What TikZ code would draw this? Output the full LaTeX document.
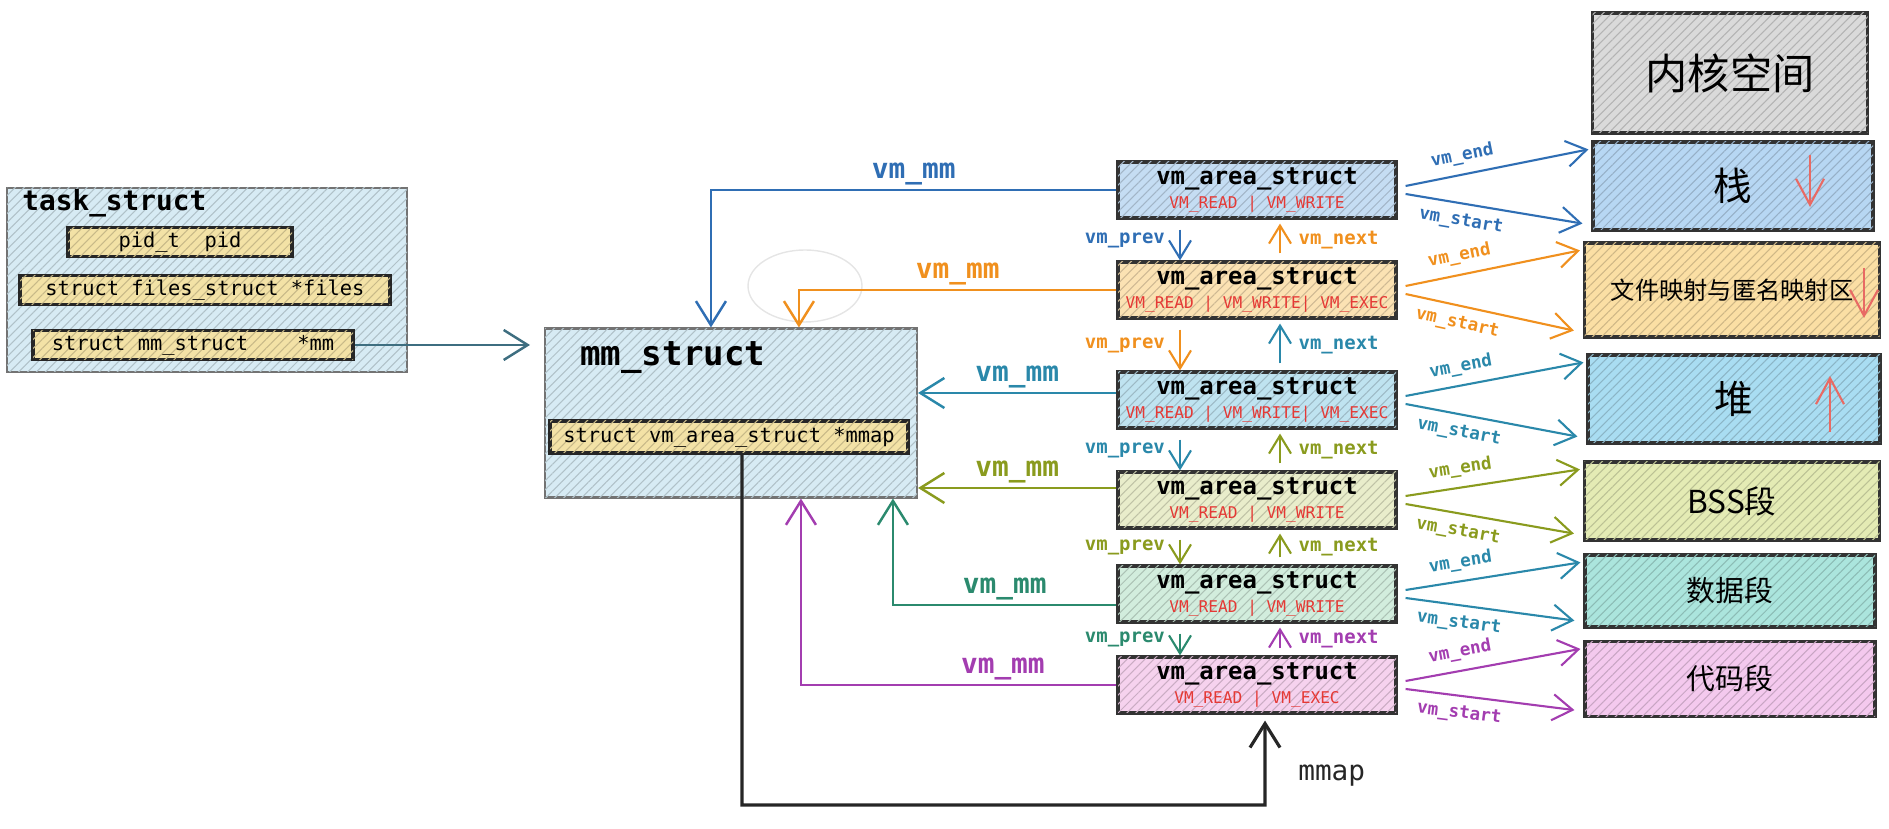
\documentclass[tikz,border=0pt]{standalone}
\usepackage{fontspec}
\setmonofont{DejaVu Sans Mono}
\newfontfamily\cjk{Noto Sans CJK SC}
\usetikzlibrary{arrows.meta,patterns.meta}

% Couleurs des liens
\definecolor{lbleu}{HTML}{2F6EB4}
\definecolor{lorange}{HTML}{F0901E}
\definecolor{lcyan}{HTML}{2A88AA}
\definecolor{lolive}{HTML}{8A9B1E}
\definecolor{lvert}{HTML}{2B8A6E}
\definecolor{lviolet}{HTML}{A33DB0}
\definecolor{lgris}{HTML}{3E6E80}
% Couleurs de fond
\definecolor{fbleu}{HTML}{C5DDF3}
\definecolor{forange}{HTML}{FBE2B3}
\definecolor{fcyan}{HTML}{BFE3F0}
\definecolor{folive}{HTML}{E9EDCB}
\definecolor{fvert}{HTML}{D2EDDD}
\definecolor{fviolet}{HTML}{F6D2EE}
\definecolor{fgris}{HTML}{DADADA}
\definecolor{fpile}{HTML}{B7D7F3}
\definecolor{ffmap}{HTML}{FBDFA4}
\definecolor{ftas}{HTML}{A9DDF2}
\definecolor{fbss}{HTML}{E4EBB4}
\definecolor{fdonnees}{HTML}{ABE5DD}
\definecolor{fcode}{HTML}{F4C9EE}
\definecolor{fstruct}{HTML}{D7EBF4}
\definecolor{fjaune}{HTML}{F3E2A6}
\definecolor{rflag}{HTML}{E53935}
\definecolor{rfleche}{HTML}{E86A64}

\tikzset{
  hachure/.style={fill=#1, postaction={pattern={Lines[angle=45,distance=1.8pt,line width=.3pt]}, pattern color=#1!82!black}},
  boite/.style={draw=black!55, line width=.6pt, hachure=#1},
  champ/.style={draw=black!85, line width=.9pt, hachure=fjaune, inner xsep=2pt, inner ysep=1.3pt, font=\ttfamily\fontsize{5.8}{6.5}\selectfont},
  vma/.style={draw=black!80, line width=.9pt, hachure=#1, minimum width=27.8mm, minimum height=5.6mm, align=center, inner sep=1pt, font=\ttfamily\fontsize{4.6}{6.6}\selectfont},
  seg/.style={draw=black!80, line width=.9pt, hachure=#1, font=\cjk\fontsize{8.2}{10}\selectfont},
  grosse/.style={line width=.7pt, -{Straight Barb[length=2.4mm,width=3mm]}},
  moyenne/.style={line width=.6pt, -{Straight Barb[length=2mm,width=2.6mm]}},
  petite/.style={line width=.6pt, -{Straight Barb[length=1.8mm,width=2.2mm]}},
  lblmm/.style={font=\ttfamily\bfseries\fontsize{7.9}{9}\selectfont, inner sep=1pt},
  lbl/.style={font=\ttfamily\bfseries\fontsize{5.4}{6}\selectfont, inner sep=1pt},
  lblse/.style={font=\ttfamily\bfseries\fontsize{5}{6}\selectfont, inner sep=1pt, sloped},
}

\newcommand\vmtitre{{\fontsize{6.8}{8}\selectfont\bfseries vm\_area\_struct}}
\newcommand\drap[1]{\textcolor{rflag}{#1}}

\begin{document}
\begin{tikzpicture}[x=0.1mm,y=-0.1mm]
   % Variables
   \def\vx{1257} % abscisse de la colonne des vm_area_struct
   \def\dprev{-7.7mm} % decalage des fleches vm_prev
   \def\dnext{2.3mm} % decalage des fleches vm_next

   \useasboundingbox (0,0) rectangle (1889,829);

   % task_struct
   \node[boite=fstruct, minimum width=40mm, minimum height=18.4mm] (task) at (207,280) {};
   \node[anchor=west, font=\ttfamily\bfseries\fontsize{7.9}{9}\selectfont] (tasktitre) at (10,203) {task\_struct};
   \node[champ, minimum width=22.4mm] (pid) at (180,242) {pid\_t\ \ pid};
   \node[champ, minimum width=37mm] (files) at (205,290) {struct files\_struct *files};
   \node[champ, minimum width=32mm] (mmptr) at (193,345) {struct mm\_struct\ \ \ \ *mm};

   % mm_struct
   \node[boite=fstruct, minimum width=37.2mm, minimum height=16.9mm] (mm) at (731,413) {};
   \node[anchor=west, font=\ttfamily\bfseries\fontsize{9.7}{11}\selectfont] (mmtitre) at (568,358) {mm\_struct};
   \node[champ, minimum width=35.8mm, minimum height=3.2mm] (mmap) at (729,437) {struct vm\_area\_struct *mmap};

   % Les vm_area_struct
   \node[vma=fbleu] (va1) at (\vx,190) {\vmtitre\\\drap{VM\_READ | VM\_WRITE}};
   \node[vma=forange] (va2) at (\vx,290) {\vmtitre\\\drap{VM\_READ | VM\_WRITE| VM\_EXEC}};
   \node[vma=fcyan] (va3) at (\vx,400) {\vmtitre\\\drap{VM\_READ | VM\_WRITE| VM\_EXEC}};
   \node[vma=folive] (va4) at (\vx,500) {\vmtitre\\\drap{VM\_READ | VM\_WRITE}};
   \node[vma=fvert] (va5) at (\vx,594) {\vmtitre\\\drap{VM\_READ | VM\_WRITE}};
   \node[vma=fviolet] (va6) at (\vx,685) {\vmtitre\\\drap{VM\_READ | VM\_EXEC}};

   % Segments de l'espace d'adressage
   \node[seg=fgris, minimum width=27.5mm, minimum height=12mm, font=\cjk\fontsize{12}{14}\selectfont] (noyau) at (1730,73) {内核空间};
   \node[seg=fpile, minimum width=28mm, minimum height=8.8mm, font=\cjk\fontsize{11}{13}\selectfont] (pile) at (1733,186) {栈};
   \node[seg=ffmap, minimum width=29.5mm, minimum height=9.4mm, font=\cjk\fontsize{6.9}{8}\selectfont] (fmap) at (1732,290) {文件映射与匿名映射区\hspace{3mm}};
   \node[seg=ftas, minimum width=29.2mm, minimum height=8.8mm, font=\cjk\fontsize{11}{13}\selectfont] (tas) at (1734,399) {堆};
   \node[seg=fbss, minimum width=29.5mm, minimum height=7.8mm, font=\cjk\fontsize{9}{11}\selectfont] (bss) at (1732,501) {BSS段};
   \node[seg=fdonnees, minimum width=29mm, minimum height=7.2mm] (donnees) at (1730,591) {数据段};
   \node[seg=fcode, minimum width=29mm, minimum height=7.5mm] (code) at (1730,679) {代码段};

   % Sens de croissance
   \draw[rfleche, line width=.6pt, -{Straight Barb[length=2.6mm,width=2.8mm]}] (1810,155) -- (1810,207);
   \draw[rfleche, line width=.6pt, -{Straight Barb[length=2.6mm,width=2.8mm]}] (1864,268) -- (1864,318);
   \draw[rfleche, line width=.6pt, -{Straight Barb[length=2.6mm,width=2.8mm]}] (1830,432) -- (1830,376);

   % task_struct -> mm_struct
   \coordinate (entree) at (530,345);
   \draw[lgris, grosse] (mmptr.east) -- (entree);

   % Cercle estompe
   \draw[gray!20, line width=.4pt] (805,286) ellipse [x radius=5.7mm, y radius=3.6mm];

   % vm_mm
   \draw[lbleu, grosse] (va1.west) -| ([xshift=16.7mm]mm.north west) node[lblmm, pos=.25, above] {vm\_mm};
   \draw[lorange, grosse] (va2.west) -| ([xshift=25.5mm]mm.north west) node[lblmm, pos=.25, above] {vm\_mm};
   \coordinate (d3) at ([yshift=.7mm]va3.west);
   \draw[lcyan, grosse] (d3) -- (d3 -| mm.east) node[lblmm, midway, above] {vm\_mm};
   \coordinate (d4) at ([yshift=1.2mm]va4.west);
   \draw[lolive, grosse] (d4) -- (d4 -| mm.east) node[lblmm, midway, above] {vm\_mm};
   \coordinate (d5) at ([yshift=-1.1mm]va5.west);
   \draw[lvert, grosse] (d5) -| ([xshift=34.9mm]mm.south west) node[lblmm, pos=.25, above] {vm\_mm};
   \draw[lviolet, grosse] (va6.west) -| ([xshift=25.7mm]mm.south west) node[lblmm, pos=.18, above] {vm\_mm};

   % vm_prev et vm_next
   \draw[lbleu, petite, shorten <=1mm] ([xshift=\dprev]va1.south) -- ([xshift=\dprev]va2.north) node[lbl, midway, left=3pt] {vm\_prev};
   \draw[lorange, petite, shorten <=.7mm, shorten >=.4mm] ([xshift=\dnext]va2.north) -- ([xshift=\dnext]va1.south) node[lbl, midway, right=4pt] {vm\_next};
   \draw[lorange, petite, shorten <=1mm] ([xshift=\dprev]va2.south) -- ([xshift=\dprev]va3.north) node[lbl, midway, left=3pt] {vm\_prev};
   \draw[lcyan, petite, shorten <=.7mm, shorten >=.4mm] ([xshift=\dnext]va3.north) -- ([xshift=\dnext]va2.south) node[lbl, midway, right=4pt] {vm\_next};
   \draw[lcyan, petite, shorten <=1mm] ([xshift=\dprev]va3.south) -- ([xshift=\dprev]va4.north) node[lbl, midway, left=3pt] {vm\_prev};
   \draw[lolive, petite, shorten <=.7mm, shorten >=.4mm] ([xshift=\dnext]va4.north) -- ([xshift=\dnext]va3.south) node[lbl, midway, right=4pt] {vm\_next};
   \draw[lolive, petite, shorten <=1mm] ([xshift=\dprev]va4.south) -- ([xshift=\dprev]va5.north) node[lbl, midway, left=3pt] {vm\_prev};
   \draw[lolive, petite, shorten <=.7mm, shorten >=.4mm] ([xshift=\dnext]va5.north) -- ([xshift=\dnext]va4.south) node[lbl, midway, right=4pt] {vm\_next};
   \draw[lvert, petite, shorten <=1mm] ([xshift=\dprev]va5.south) -- ([xshift=\dprev]va6.north) node[lbl, midway, left=3pt] {vm\_prev};
   \draw[lviolet, petite, shorten <=.7mm, shorten >=.4mm] ([xshift=\dnext]va6.north) -- ([xshift=\dnext]va5.south) node[lbl, midway, right=4pt] {vm\_next};

   % vm_end et vm_start
   \draw[lbleu, moyenne] ([shift={(8,-4)}]va1.east) -- ([shift={(-3,9)}]pile.north west) node[lblse, pos=.33, above=1.5pt] {vm\_end};
   \draw[lbleu, moyenne] ([shift={(8,4)}]va1.east) -- ([shift={(-9,-8)}]pile.south west) node[lblse, pos=.33, below=1.5pt] {vm\_start};
   \draw[lorange, moyenne] ([shift={(8,-4)}]va2.east) -- ([shift={(-3,9)}]fmap.north west) node[lblse, pos=.33, above=1.5pt] {vm\_end};
   \draw[lorange, moyenne] ([shift={(8,4)}]va2.east) -- ([shift={(-9,-8)}]fmap.south west) node[lblse, pos=.33, below=1.5pt] {vm\_start};
   \draw[lcyan, moyenne] ([shift={(8,-4)}]va3.east) -- ([shift={(-3,9)}]tas.north west) node[lblse, pos=.33, above=1.5pt] {vm\_end};
   \draw[lcyan, moyenne] ([shift={(8,4)}]va3.east) -- ([shift={(-9,-8)}]tas.south west) node[lblse, pos=.33, below=1.5pt] {vm\_start};
   \draw[lolive, moyenne] ([shift={(8,-4)}]va4.east) -- ([shift={(-3,9)}]bss.north west) node[lblse, pos=.33, above=1.5pt] {vm\_end};
   \draw[lolive, moyenne] ([shift={(8,4)}]va4.east) -- ([shift={(-9,-8)}]bss.south west) node[lblse, pos=.33, below=1.5pt] {vm\_start};
   \draw[lcyan, moyenne] ([shift={(8,-4)}]va5.east) -- ([shift={(-3,9)}]donnees.north west) node[lblse, pos=.33, above=1.5pt] {vm\_end};
   \draw[lcyan, moyenne] ([shift={(8,4)}]va5.east) -- ([shift={(-9,-8)}]donnees.south west) node[lblse, pos=.33, below=1.5pt] {vm\_start};
   \draw[lviolet, moyenne] ([shift={(8,-4)}]va6.east) -- ([shift={(-3,9)}]code.north west) node[lblse, pos=.33, above=1.5pt] {vm\_end};
   \draw[lviolet, moyenne] ([shift={(8,4)}]va6.east) -- ([shift={(-9,-8)}]code.south west) node[lblse, pos=.33, below=1.5pt] {vm\_start};

   % mmap
   \coordinate (coin) at (1265,805);
   \draw[black!85, grosse, line width=.9pt, shorten >=.6mm] ([xshift=1.3mm]mmap.south) |- (coin) -- ([xshift=.8mm]va6.south) node[pos=.32, right=2mm, font=\ttfamily\fontsize{7.9}{9}\selectfont] {mmap};
\end{tikzpicture}
\end{document}
